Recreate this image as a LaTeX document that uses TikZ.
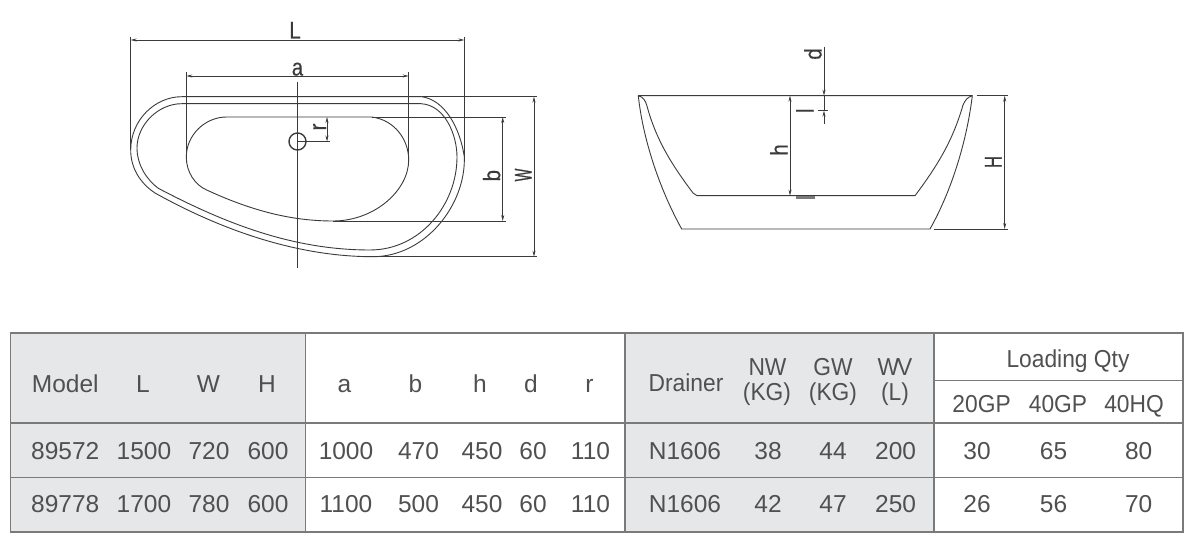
\documentclass[tikz,border=0pt]{standalone}
\usepackage{fontspec}
\setmainfont{Liberation Sans}
\newfontfamily\dimfont[FakeStretch=0.85,FakeBold=0.3]{Liberation Sans}
\newfontfamily\dimHfont[FakeStretch=0.7,FakeBold=0.5]{Liberation Sans}
\newfontfamily\dimWfont[FakeStretch=0.56,FakeBold=0.7]{Liberation Sans}
\newfontfamily\headfont[FakeStretch=0.93]{Liberation Sans}
\usetikzlibrary{arrows.meta}
\definecolor{ink}{HTML}{3A3A3A}
\definecolor{txt}{HTML}{505050}
\definecolor{rule}{HTML}{7A7A7A}
\definecolor{panel}{HTML}{E6E7E8}
\tikzset{
  part/.style={draw=ink,line width=0.9pt,line join=round},
  dim/.style={draw=ink,line width=0.7pt,{Stealth[length=6pt,width=3pt]}-{Stealth[length=6pt,width=3pt]}},
  ext/.style={draw=ink,line width=0.7pt},
  lab/.style={inner sep=0pt,text=ink,font=\dimfont\fontsize{24}{24}\selectfont,text height=17pt,text depth=0pt},
  rlab/.style={lab,rotate=90},
  cell/.style={inner sep=0pt,text=txt,font=\fontsize{24.5}{24.5}\selectfont,text height=17.5pt,text depth=0pt},
  head/.style={cell,font=\headfont\fontsize{24.5}{24.5}\selectfont},
  grid/.style={draw=rule,line width=1.2pt},
}
\begin{document}
\begin{tikzpicture}[x=1pt,y=-1pt]
\useasboundingbox (0,0) rectangle (1200,545);
% ---- plan view
\path[part] (181.7,96.7) -- (421.7,96.7) .. controls (445,100) and (460,128) .. (464.3,156.7)
  .. controls (466,205) and (425,256.7) .. (373,256.7)
  .. controls (300,256.7) and (225,232) .. (155,193)
  .. controls (140,183) and (130.7,168) .. (130.7,150)
  .. controls (130.7,120) and (155,96.7) .. cycle;
\path[part] (181.7,103.7) -- (421,103.7) .. controls (445,105) and (457,135) .. (457,157)
  .. controls (457,205) and (420,250) .. (370,250)
  .. controls (295,250) and (228,225) .. (158.3,188.3)
  .. controls (147,180) and (137,165) .. (137,148)
  .. controls (137,125) and (158,103.7) .. cycle;
\path[part] (226.7,117) -- (371.7,117) .. controls (395,120) and (408.7,140) .. (408.7,160)
  .. controls (408.7,190) and (375,221) .. (333,221)
  .. controls (290,221) and (250,210) .. (206.7,190)
  .. controls (195,185) and (186.3,172) .. (186.3,157)
  .. controls (186.3,135) and (205,117) .. cycle;
\node[circle,draw=ink,line width=1.4pt,minimum size=17pt,inner sep=0pt] (drain) at (297.5,141.5) {};
% extension and dimension lines, plan
\coordinate (Lt1) at (130.7,36.7); \coordinate (Lb1) at (130.7,150);
\coordinate (Lt2) at (464.3,36.7); \coordinate (Lb2) at (464.3,156.7);
\coordinate (La) at (130.7,40); \coordinate (Lz) at (464.3,40);
\draw[ext] (Lt1) -- (Lb1); \draw[ext] (Lt2) -- (Lb2); \draw[dim] (La) -- (Lz);
\coordinate (at1) at (186.3,72); \coordinate (ab1) at (186.3,157);
\coordinate (at2) at (408.7,72); \coordinate (ab2) at (408.7,160);
\coordinate (aa) at (186.3,76); \coordinate (az) at (408.7,76);
\draw[ext] (at1) -- (ab1); \draw[ext] (at2) -- (ab2); \draw[dim] (aa) -- (az);
\coordinate (cl1) at (297.7,81.7); \coordinate (cl2) at (297.7,268);
\draw[ext] (cl1) -- (cl2);
\coordinate (rr) at (330,141.5); \coordinate (ra) at (327,117); \coordinate (rz) at (327,141.5);
\draw[ext] (drain.center) -- (rr); \draw[dim] (ra) -- (rz);
\coordinate (wt1) at (421.7,96.7); \coordinate (wt2) at (537,96.7);
\coordinate (wb1) at (373,256.7); \coordinate (wb2) at (537,256.7);
\coordinate (wa) at (534,96.7); \coordinate (wz) at (534,256.7);
\draw[ext] (wt1) -- (wt2); \draw[ext] (wb1) -- (wb2); \draw[dim] (wa) -- (wz);
\coordinate (bt1) at (371.7,117); \coordinate (bt2) at (505.7,117);
\coordinate (bb1) at (333,221); \coordinate (bb2) at (505.7,221);
\coordinate (ba) at (502.7,117); \coordinate (bz) at (502.7,221);
\draw[ext] (bt1) -- (bt2); \draw[ext] (bb1) -- (bb2); \draw[dim] (ba) -- (bz);
\node[lab] (tL) at (295,30) {L};
\node[lab] (ta) at (297.5,67) {a};
\node[rlab] (tr) at (317.5,127) {r};
\node[rlab] (tb) at (491.7,175.7) {b};
\node[rlab,font=\dimWfont\fontsize{24}{24}\selectfont] (tW) at (523,175) {W};
% ---- section view
\path[part] (638.3,95.7) -- (972.3,95.7) .. controls (967,140) and (952,190) .. (930,229)
  -- (681.7,229) .. controls (660,190) and (643,140) .. cycle;
\path[part] (638.3,95.7) .. controls (643,97) and (645,100) .. (646.7,105)
  .. controls (656,140) and (672,165) .. (693,193) -- (697,195.7) -- (915,195.7)
  .. controls (938,165) and (953,140) .. (963,105) .. controls (965,100) and (968,97) .. (972.3,95.7);
\path[fill=rule,draw=rule,line width=0.4pt] (796,196) rectangle (814,198.5);
\coordinate (Ht1) at (976.7,95.7); \coordinate (Ht2) at (1008,95.7);
\coordinate (Hb1) at (934.3,229); \coordinate (Hb2) at (1008,229);
\coordinate (Ha) at (1004.7,95.7); \coordinate (Hz) at (1004.7,229);
\draw[ext] (Ht1) -- (Ht2); \draw[ext] (Hb1) -- (Hb2); \draw[dim] (Ha) -- (Hz);
\coordinate (ha) at (790,95.7); \coordinate (hz) at (790,195.7);
\draw[dim] (ha) -- (hz);
\coordinate (d1) at (824,46.7); \coordinate (d2) at (824,95.7);
\coordinate (d3) at (824,110.7); \coordinate (d4) at (824,124);
\draw[ext,-{Stealth[length=6pt,width=3pt]}] (d1) -- (d2);
\draw[ext,-{Stealth[length=6pt,width=3pt]}] (d4) -- (d3);
\draw[ext,line width=0.4pt] (d2) -- (d3);
\coordinate (t1) at (817.7,110.7); \coordinate (t2) at (828,110.7);
\draw[ext] (t1) -- (t2);
\node[rlab] (td) at (813,54) {d};
\node[rlab] (tl) at (805,110.7) {l};
\node[rlab] (th) at (779,150) {h};
\node[rlab,font=\dimHfont\fontsize{24}{24}\selectfont] (tH) at (993,162) {H};
% ---- table
\fill[panel] (10.3,333) rectangle (305.3,532);
\fill[panel] (625,333) rectangle (934,532);
\draw[grid] (10.3,333) rectangle (1183,532);
\draw[grid] (10.3,423) -- (1183,423);
\draw[grid] (10.3,477.7) -- (1183,477.7);
\draw[grid] (305.3,333) -- (305.3,532);
\draw[grid] (625,333) -- (625,532);
\draw[grid] (934,333) -- (934,532);
\draw[grid] (934,380.3) -- (1183,380.3);
\foreach \n/\x/\t in {hModel/65.3/Model,hL/143/L,hW/208.5/W,hH/267/H,ha/344.5/a,hb/415.5/b,hh/480/h,hd/531/d,hr/589.5/r}
  \node[cell] (\n) at (\x,384) {\t};
\node[head] (hDrainer) at (686,383) {Drainer};
\node[head] (hNW) at (767.5,367) {NW};
\node[head] (hNWu) at (767,391.5) {(KG)};
\node[head] (hGW) at (833,367) {GW};
\node[head] (hGWu) at (833,391.5) {(KG)};
\node[head] (hWV) at (895,367) {W\kern-2pt V};
\node[head] (hWVu) at (895,391.5) {(L)};
\node[head] (hLoad) at (1068,359) {Loading Qty};
\node[head] (h20) at (981.6,404) {20GP};
\node[head] (h40) at (1058,404) {40GP};
\node[head] (h40q) at (1134,404) {40HQ};
\foreach \n/\x/\t in {a/65.3/89572,b/144/1500,c/209/720,d/268/600,e/346/1000,f/418.5/470,g/482/450,h/533/60,i/590.5/110,j/685/N1606,k/768/38,l/833/44,m/895.6/200,n/977/30,o/1053.5/65,p/1138.7/80}
  \node[cell] (r1\n) at (\x,451) {\t};
\foreach \n/\x/\t in {a/65.3/89778,b/144/1700,c/209/780,d/268/600,e/346/1100,f/418.5/500,g/482/450,h/533/60,i/590.5/110,j/685/N1606,k/768/42,l/833/47,m/895.6/250,n/977/26,o/1053.5/56,p/1138.7/70}
  \node[cell] (r2\n) at (\x,504) {\t};
\end{tikzpicture}
\end{document}
